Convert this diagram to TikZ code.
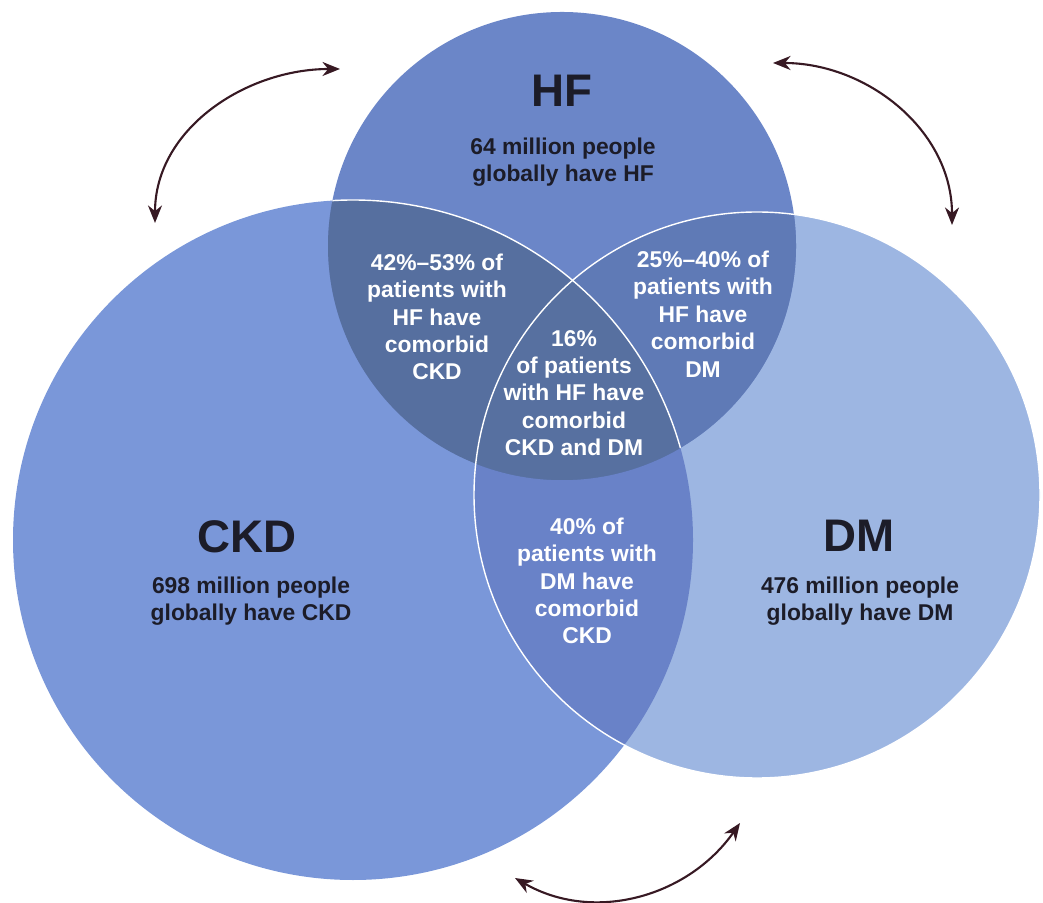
\documentclass[tikz,border=0pt]{standalone}
\usepackage{fontspec}
\setmainfont{Liberation Sans}
\usetikzlibrary{arrows.meta}
\definecolor{hfblue}{RGB}{107,134,200}
\definecolor{ckdblue}{RGB}{122,151,217}
\definecolor{dmblue}{RGB}{157,182,226}
\definecolor{hfckdblue}{RGB}{86,111,159}
\definecolor{hfdmblue}{RGB}{95,122,182}
\definecolor{allblue}{RGB}{87,112,160}
\definecolor{ckddmblue}{RGB}{105,130,200}
\definecolor{arrowbrown}{RGB}{55,25,35}
\definecolor{darktext}{RGB}{28,28,40}
\begin{document}
\begin{tikzpicture}[x=0.02cm,y=0.02cm,>={Stealth[length=10pt,width=8pt]},
		setname/.style={font=\fontsize{26}{31}\selectfont\bfseries,text=darktext},
		setnote/.style={align=center,font=\fontsize{13}{15.6}\selectfont\bfseries,text=darktext},
		lensnote/.style={setnote,text=white},
		pairarrow/.style={<->,color=arrowbrown,line width=1.2pt}]
	\useasboundingbox (0,0) rectangle (1043,902);
	\coordinate (hfc) at (562,656);
	\coordinate (ckdc) at (353,362);
	\coordinate (dmc) at (757,407);
	\fill[ckdblue] (ckdc) circle (340);
	\fill[dmblue] (dmc) circle (283);
	\fill[hfblue] (hfc) circle (234);
	\begin{scope}
		\clip (ckdc) circle (340);
		\fill[ckddmblue] (dmc) circle (283);
		\fill[hfckdblue] (hfc) circle (234);
	\end{scope}
	\begin{scope}
		\clip (dmc) circle (283);
		\fill[hfdmblue] (hfc) circle (234);
		\clip (ckdc) circle (340);
		\fill[allblue] (hfc) circle (234);
	\end{scope}
	\draw[white,line width=0.8pt] (dmc) circle (283);
	\begin{scope}
		\clip (hfc) circle (234);
		\draw[white,line width=0.8pt] (ckdc) circle (340);
	\end{scope}
	\node[setname] (hf) at (562,811) {HF};
	\node[setnote] (hfnote) at (563,740) {64 million people\\globally have HF};
	\node[setname] (ckd) at (247,365) {CKD};
	\node[setnote] (ckdnote) at (251,301) {698 million people\\globally have CKD};
	\node[setname] (dm) at (859,366) {DM};
	\node[setnote] (dmnote) at (860,301) {476 million people\\globally have DM};
	\node[lensnote] (hfckd) at (437,585) {42\%--53\% of\\patients with\\HF have\\comorbid\\CKD};
	\node[lensnote] (hfdm) at (703,588) {25\%--40\% of\\patients with\\HF have\\comorbid\\DM};
	\node[lensnote] (all) at (574,509) {16\%\\of patients\\with HF have\\comorbid\\CKD and DM};
	\node[lensnote] (ckddm) at (587,321) {40\% of\\patients with\\DM have\\comorbid\\CKD};
	\coordinate (tlend) at (340,833);
	\coordinate (tlstart) at (155,679);
	\coordinate (trstart) at (773,839);
	\coordinate (trend) at (952,677);
	\coordinate (bstart) at (515,24);
	\coordinate (bend) at (740,79);
	\draw[pairarrow] (tlstart) to[out=90,in=180] (tlend);
	\draw[pairarrow] (trstart) to[out=0,in=90] (trend);
	\draw[pairarrow] (bstart) to[out=-30,in=235] (bend);
\end{tikzpicture}
\end{document}
